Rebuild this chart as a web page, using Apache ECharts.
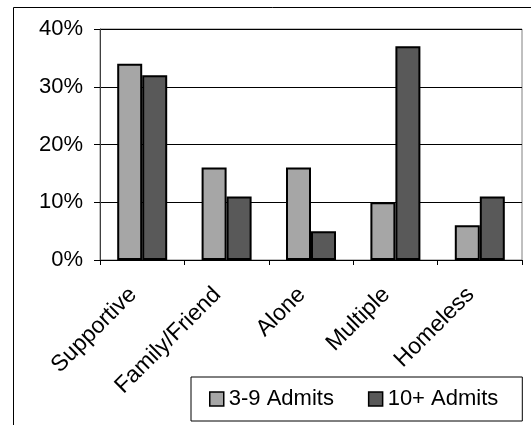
<!DOCTYPE html>
<html>
<head>
<meta charset="utf-8">
<script src="https://cdn.jsdelivr.net/npm/echarts@6/dist/echarts.min.js"></script>
<style>
  html, body { margin: 0; padding: 0; background: #fff; }
  #chart { width: 531px; height: 425px; }
</style>
</head>
<body>
<div id="chart"></div>
<script>
// Living situation categories and the share of patients in each, by admission count
const categories = ['Supportive', 'Family/Friend', 'Alone', 'Multiple', 'Homeless'];
const admits3to9 = [34, 16, 16, 10, 6];
const admits10plus = [32, 11, 5, 37, 11];
const seriesNames = ['3-9 Admits', '10+ Admits'];
const yTicks = { min: 0, max: 40, interval: 10 };

const FONT = 'Liberation Sans, Arial, sans-serif';
const LIGHT = '#a6a6a6';
const DARK = '#595959';

const chart = echarts.init(document.getElementById('chart'), null, { renderer: 'canvas' });

chart.setOption({
  animation: false,
  backgroundColor: '#fff',
  textStyle: { fontFamily: FONT },
  graphic: [{
    type: 'rect',
    shape: { x: 13.5, y: 7.5, width: 600, height: 500 },
    style: { fill: 'none', stroke: '#000', lineWidth: 1 },
    silent: true,
    z: -10
  }],
  grid: {
    left: 100, right: 9, top: 29, bottom: 165,
    show: true, borderColor: '#808080', borderWidth: 1, backgroundColor: 'transparent'
  },
  legend: {
    left: 191, top: 377,
    padding: [11, 24, 11, 18],
    itemGap: 34,
    itemWidth: 14, itemHeight: 14,
    borderColor: '#000', borderWidth: 1,
    textStyle: { fontFamily: FONT, fontSize: 22, color: '#000' },
    itemStyle: { borderColor: '#000', borderWidth: 1.5 },
    data: seriesNames.map(n => ({ name: n, icon: 'rect' }))
  },
  xAxis: {
    type: 'category',
    data: categories,
    axisLine: { lineStyle: { color: '#000', width: 1 } },
    axisTick: { show: true, length: 5, lineStyle: { color: '#000' } },
    axisLabel: {
      rotate: 45,
      interval: 0,
      margin: 22,
      padding: [0, 13, 0, 0],
      fontFamily: FONT,
      fontSize: 23,
      color: '#000'
    }
  },
  yAxis: {
    type: 'value',
    min: yTicks.min, max: yTicks.max, interval: yTicks.interval,
    axisLine: { show: true, lineStyle: { color: '#404040', width: 1 } },
    axisTick: { show: true, inside: false, length: 6, lineStyle: { color: '#000' } },
    axisLabel: {
      margin: 17,
      fontFamily: FONT,
      fontSize: 22,
      color: '#000',
      formatter: '{value}%'
    },
    splitLine: { show: true, lineStyle: { color: '#000', width: 1 } }
  },
  series: [
    {
      name: seriesNames[0],
      type: 'bar',
      data: admits3to9,
      barWidth: 25,
      barGap: '0%',
      itemStyle: { color: LIGHT, borderColor: '#000', borderWidth: 2 }
    },
    {
      name: seriesNames[1],
      type: 'bar',
      data: admits10plus,
      barWidth: 25,
      barGap: '0%',
      itemStyle: { color: DARK, borderColor: '#000', borderWidth: 2 }
    }
  ]
});
</script>
</body>
</html>
